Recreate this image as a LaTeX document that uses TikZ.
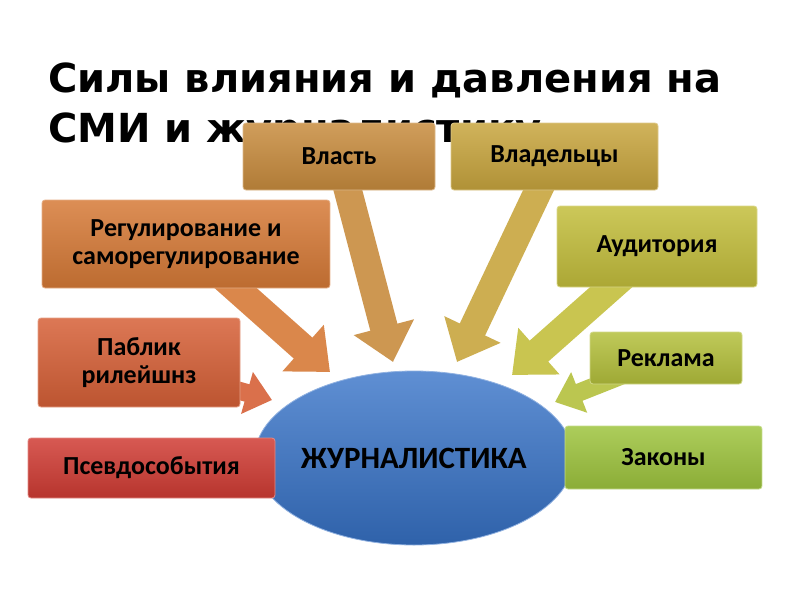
\documentclass[tikz,border=0pt]{standalone}
\usepackage{fontspec}
\setmainfont{Carlito}
\newfontfamily\titlefont{DejaVu Sans}
\usepackage{graphicx}
\usetikzlibrary{arrows.meta,shapes.geometric}
\pgfdeclarelayer{ttl}
\pgfdeclarelayer{ell}
\pgfdeclarelayer{arr}
\pgfsetlayers{ttl,ell,arr,main}
\definecolor{cVl}{RGB}{200,140,62}
\definecolor{cVd}{RGB}{200,165,62}
\definecolor{cRg}{RGB}{214,122,55}
\definecolor{cPb}{RGB}{214,96,55}
\definecolor{cPs}{RGB}{208,60,52}
\definecolor{cAu}{RGB}{195,190,60}
\definecolor{cRk}{RGB}{180,192,60}
\definecolor{cZk}{RGB}{158,196,62}
\definecolor{cJ}{RGB}{55,115,200}
\tikzset{
  box/.style={rounded corners=3pt, draw=#1!60!white, line width=0.8pt,
    top color=#1!85!white, bottom color=#1!88!black,
    font=\bfseries\fontsize{26}{28}\selectfont, text=black, align=center, inner sep=0pt},
  barrow/.style={line width=28pt, draw=#1, -{Triangle[width=60pt,length=36pt]}},
  sarrow/.style={line width=18pt, draw=#1, -{Triangle[width=42pt,length=26pt]}},
  ttltext/.style={anchor=base west, inner sep=0pt, font=\titlefont\bfseries\fontsize{40}{44}\selectfont}
}
\begin{document}
\begin{tikzpicture}[x=1pt,y=-1pt]
\useasboundingbox (0,0) rectangle (800,600);
\begin{pgfonlayer}{ttl}
\fill[white] (0,0) rectangle (800,600);
\node[ttltext] (t1) at (48,92) {Силы влияния и давления на};
\node[ttltext] (t2) at (48,142) {СМИ и журналистику};
\end{pgfonlayer}
% boxes
\node[box=cVl, minimum width=192pt, minimum height=67pt] (vl) at (339,156.5) {Власть};
\node[box=cVd, minimum width=207pt, minimum height=67pt] (vd) at (554.5,156.5) {Владельцы};
\node[box=cRg, minimum width=288pt, minimum height=88pt] (rg) at (186,244) {Регулирование и\\саморегулирование};
\node[box=cAu, minimum width=200pt, minimum height=81pt] (au) at (657,246.5) {Аудитория};
\node[box=cPb, minimum width=202pt, minimum height=89pt] (pb) at (139,362.5) {Паблик\\рилейшнз};
\node[box=cRk, minimum width=152pt, minimum height=52pt] (rk) at (666,358) {Реклама};
\node[box=cPs, minimum width=247pt, minimum height=60pt] (ps) at (151.5,468) {Псевдособытия};
\node[box=cZk, minimum width=197pt, minimum height=63pt] (zk) at (663.5,457.5) {Законы};
% ellipse
\begin{pgfonlayer}{ell}
\node[ellipse, minimum width=318pt, minimum height=174pt, draw=cJ!55!white, line width=0.8pt,
  top color=cJ!80!white, bottom color=cJ!85!black, inner sep=0pt,
  font=\bfseries\fontsize{31}{33}\selectfont] (j) at (414,458) {ЖУРНАЛИСТИКА};
\end{pgfonlayer}
% arrows
\coordinate (tvl) at (393,362);
\coordinate (tvd) at (457,362);
\coordinate (trg) at (330,372);
\coordinate (tau) at (512,375);
\coordinate (tpb) at (272,400);
\coordinate (trk) at (555,402);
\begin{pgfonlayer}{arr}
\draw[barrow=cVl!90!white] (vl.center) -- (tvl);
\draw[barrow=cVd!90!white] (vd.center) -- (tvd);
\draw[barrow=cRg!90!white] (rg.center) -- (trg);
\draw[barrow=cAu!90!white] (au.center) -- (tau);
\draw[sarrow=cPb!90!white] (pb.center) -- (tpb);
\draw[sarrow=cRk!90!white] (rk.center) -- (trk);
\end{pgfonlayer}
\end{tikzpicture}
\end{document}
